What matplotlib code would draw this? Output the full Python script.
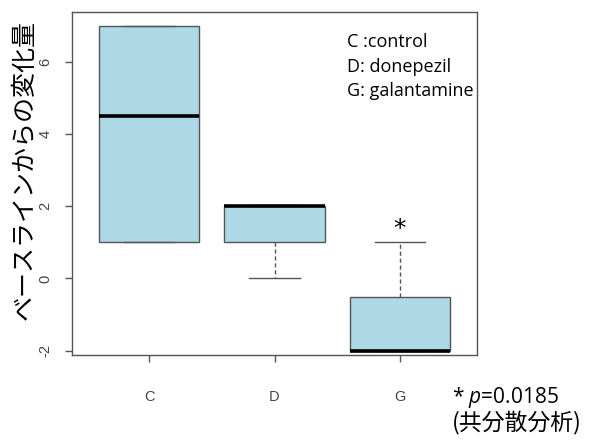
import matplotlib
matplotlib.use('Agg')
import matplotlib.pyplot as plt

# データ
groups = ['C', 'D', 'G']
q1 = [1, 1, -2]
med = [4.5, 2, -2]
q3 = [7, 2, -0.5]
whislo = [1, 0, -2]
whishi = [7, 2, 1]
yticks = [-2, 0, 2, 4, 6]
legend_lines = ['C :control', 'D: donepezil', 'G: galantamine']

plt.rcParams['font.family'] = ['Liberation Sans', 'DejaVu Sans']
plt.rcParams['mathtext.fontset'] = 'custom'
plt.rcParams['mathtext.it'] = 'Open Sans:italic'
plt.rcParams['mathtext.rm'] = 'Open Sans'

fig = plt.figure(figsize=(6.04, 4.41), dpi=100)
ax = fig.add_axes([72/604, 1-355/441, (477-72)/604, (355-12)/441])

stats = []
for i in range(len(groups)):
    stats.append({'q1': q1[i], 'med': med[i], 'q3': q3[i],
                  'whislo': whislo[i], 'whishi': whishi[i], 'fliers': []})

ax.bxp(stats, positions=[1, 2, 3], widths=0.8, capwidths=0.4,
       patch_artist=True, showfliers=False,
       boxprops=dict(facecolor='#add8e6', edgecolor='#555555', linewidth=1),
       medianprops=dict(color='black', linewidth=2.6),
       whiskerprops=dict(color='#555555', linestyle=(0, (3, 2)), linewidth=1),
       capprops=dict(color='#555555', linewidth=1))

ax.set_xlim(0.385, 3.615)
ax.set_ylim(-2.12, 7.38)
ax.set_xticks([1, 2, 3])
ax.set_xticklabels(groups)
ax.set_yticks(yticks)
ax.set_yticklabels([str(v) for v in yticks], rotation=90, va='center')
ax.tick_params(axis='both', colors='#555555', labelcolor='#444444',
               labelsize=10.5, length=5, width=1)
ax.tick_params(axis='x', pad=20)
ax.tick_params(axis='y', pad=9)
for s in ax.spines.values():
    s.set_color('#555555')
    s.set_linewidth(1)

# 有意差マーク
ax.text(3, whishi[2] + 0.05, '*', ha='center', va='bottom', fontsize=18,
        family=['DejaVu Sans'])

# 凡例テキスト
for k, t in enumerate(legend_lines):
    fig.text(347/604, 1 - (42 + 24.5*k)/441, t, ha='left', va='center',
             fontsize=13, family=['Open Sans', 'DejaVu Sans'])

fig.text(25/604, 1 - 170/441, 'ベースラインからの変化量', rotation=90,
         ha='center', va='center', fontsize=18,
         family=['Noto Sans CJK JP', 'DejaVu Sans'])

fig.text(452/604, 1 - 397/441, r'* $p$=0.0185', ha='left', va='center',
         fontsize=15, family=['Open Sans', 'DejaVu Sans'])
fig.text(452/604, 1 - 423/441, '(共分散分析)', ha='left', va='center',
         fontsize=16.5, family=['Noto Sans CJK JP', 'DejaVu Sans'])

fig.savefig('out.png', dpi=100)
